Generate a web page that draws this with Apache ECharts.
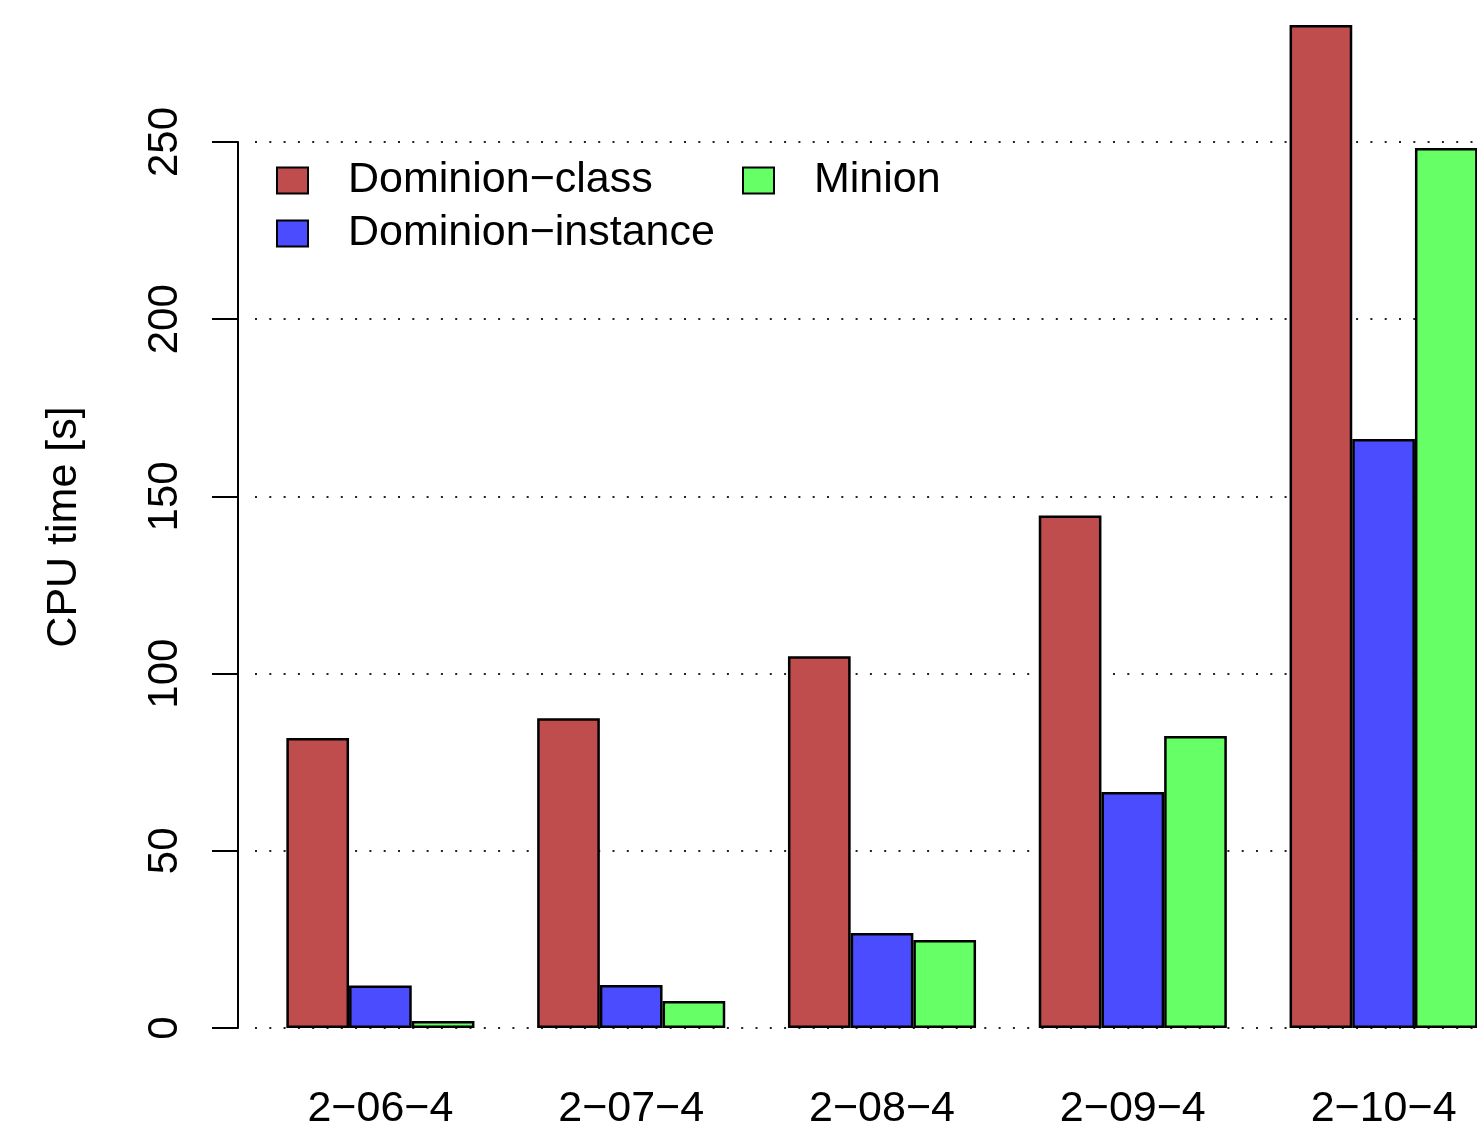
<!DOCTYPE html>
<html>
<head>
<meta charset="utf-8">
<script src="https://cdn.jsdelivr.net/npm/echarts@6/dist/echarts.min.js"></script>
<style>
html,body{margin:0;padding:0;background:#fff;}
#chart{width:1477px;height:1128px;}
</style>
</head>
<body>
<div id="chart"></div>
<script>
const categories = ['2\u221206\u22124', '2\u221207\u22124', '2\u221208\u22124', '2\u221209\u22124', '2\u221210\u22124'];
const seriesNames = ['Dominion\u2212class', 'Dominion\u2212instance', 'Minion'];
const dominionClass = [81.8, 87.4, 104.9, 144.6, 283.0];
const dominionInstance = [12.0, 12.1, 26.8, 66.6, 166.2];
const minion = [2.0, 7.6, 24.8, 82.4, 248.3];
const yTicks = [0, 50, 100, 150, 200, 250];

const FONT = '"Liberation Sans", Arial, Helvetica, sans-serif';
const chart = echarts.init(document.getElementById('chart'), null, {renderer: 'canvas'});

function barSeries(name, data, color) {
  return {
    name: name,
    type: 'bar',
    data: data,
    clip: false,
    barWidth: '25%',
    barGap: '0%',
    itemStyle: {color: color, borderColor: '#000', borderWidth: 2.5},
    emphasis: {disabled: true}
  };
}

const legendText = {fontFamily: FONT, fontSize: 43, color: '#000', lineHeight: 42, padding: [0, 0, 0, 35]};

chart.setOption({
  animation: false,
  backgroundColor: '#fff',
  grid: {left: 255, top: 142, width: 1254, bottom: 100, containLabel: false, outerBoundsMode: 'none'},
  legend: [
    {
      data: [seriesNames[0], seriesNames[1]],
      orient: 'vertical', left: 271, top: 154,
      icon: 'rect', itemWidth: 31, itemHeight: 26, itemGap: 10,
      textStyle: legendText, selectedMode: false
    },
    {
      data: [seriesNames[2]],
      orient: 'vertical', left: 737, top: 154,
      icon: 'rect', itemWidth: 31, itemHeight: 26, itemGap: 10,
      textStyle: legendText, selectedMode: false
    }
  ],
  xAxis: {
    type: 'category',
    data: categories,
    axisLine: {show: false},
    axisTick: {show: false},
    axisLabel: {fontFamily: FONT, fontSize: 43, color: '#000', margin: 60, lineHeight: 42},
    splitLine: {show: false}
  },
  yAxis: {
    type: 'value',
    min: 0, max: 250, interval: 50,
    offset: 17,
    name: 'CPU time [s]',
    nameLocation: 'middle',
    nameRotate: 90,
    nameGap: 153,
    nameTextStyle: {fontFamily: FONT, fontSize: 43, color: '#000', lineHeight: 42, padding: [0, 0, 0, 116]},
    axisLine: {show: true, lineStyle: {color: '#000', width: 2}},
    axisTick: {show: true, length: 26, lineStyle: {color: '#000', width: 2}},
    axisLabel: {
      rotate: 90, fontFamily: FONT, fontSize: 42, color: '#000', margin: 52, lineHeight: 42,
      formatter: function (v) { return yTicks.indexOf(v) >= 0 ? String(v) : ''; }
    },
    splitLine: {show: true, lineStyle: {color: '#222', width: 2, type: [2, 12.3]}}
  },
  series: [
    barSeries(seriesNames[0], dominionClass, '#BF4D4D'),
    barSeries(seriesNames[1], dominionInstance, '#4C4CFF'),
    barSeries(seriesNames[2], minion, '#66FF66')
  ]
});
</script>
</body>
</html>
